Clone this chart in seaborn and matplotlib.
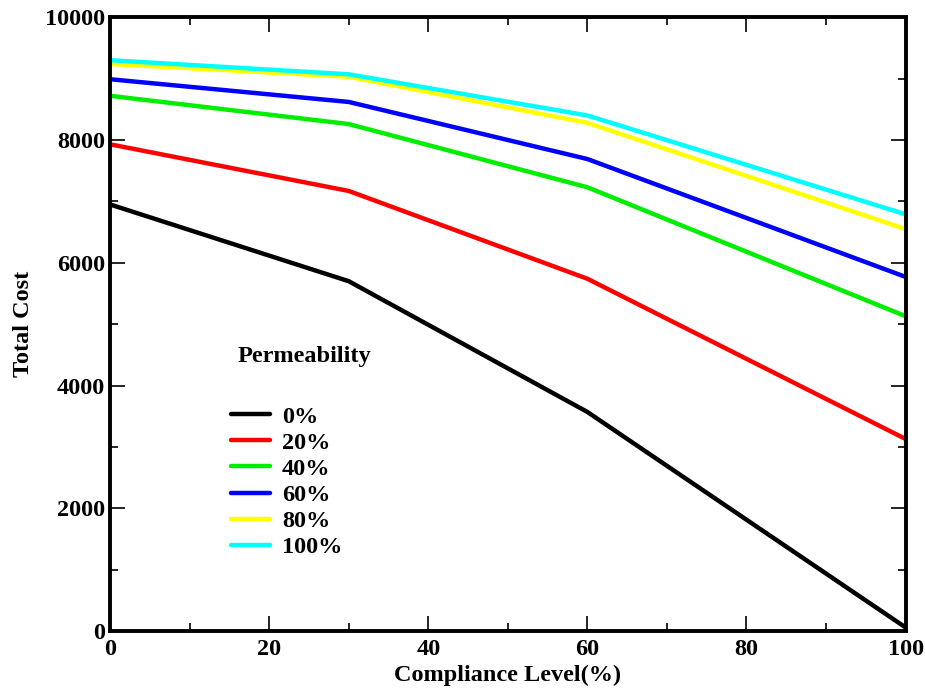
import matplotlib
matplotlib.use("Agg")
import matplotlib.pyplot as plt
import seaborn as sns
import pandas as pd
from matplotlib.ticker import MultipleLocator
from matplotlib.lines import Line2D

compliance = [0, 30, 60, 100]
perm_labels = ["0%", "20%", "40%", "60%", "80%", "100%"]
cost_0 = [6950, 5700, 3570, 60]
cost_20 = [7930, 7170, 5740, 3130]
cost_40 = [8720, 8260, 7230, 5130]
cost_60 = [8990, 8620, 7690, 5770]
cost_80 = [9240, 9030, 8280, 6550]
cost_100 = [9300, 9070, 8400, 6790]
colors = ["#000000", "#ff0000", "#00ee00", "#0000ff", "#ffff00", "#00ffff"]

series = [cost_0, cost_20, cost_40, cost_60, cost_80, cost_100]
rows = []
for lab, vals in zip(perm_labels, series):
    for x, y in zip(compliance, vals):
        rows.append({"Compliance": x, "Cost": y, "Permeability": lab})
df = pd.DataFrame(rows)

sns.set_style("ticks", {"axes.edgecolor": "black", "text.color": "black",
                        "xtick.color": "black", "ytick.color": "black",
                        "axes.labelcolor": "black"})
plt.rcParams["font.family"] = ["Liberation Serif", "DejaVu Serif"]
plt.rcParams["font.weight"] = "bold"

FS = 17.5
fig = plt.figure(figsize=(9.25, 6.89), dpi=100)
ax = fig.add_axes([0.119, 0.084, 0.86, 0.891])
sns.lineplot(data=df, x="Compliance", y="Cost", hue="Permeability",
             hue_order=perm_labels, palette=colors, linewidth=3.2, ax=ax,
             legend=False)

ax.set_xlim(0, 100)
ax.set_ylim(0, 10000)
ax.xaxis.set_major_locator(MultipleLocator(20))
ax.xaxis.set_minor_locator(MultipleLocator(10))
ax.yaxis.set_major_locator(MultipleLocator(2000))
ax.yaxis.set_minor_locator(MultipleLocator(1000))
ax.tick_params(which="both", direction="in", top=True, right=True,
               width=1.2, labelsize=FS, colors="black")
ax.tick_params(which="major", length=11)
ax.tick_params(which="minor", length=6)
ax.tick_params(axis="x", pad=6)
for lbl in ax.get_xticklabels() + ax.get_yticklabels():
    lbl.set_fontweight("bold")
for s in ax.spines.values():
    s.set_linewidth(2.8)
    s.set_color("black")
    s.set_visible(True)

ax.set_xlabel("Compliance Level(%)", fontsize=FS, fontweight="bold", labelpad=3)
ax.set_ylabel("Total Cost", fontsize=FS, fontweight="bold", labelpad=8)

handles = [Line2D([], [], color=c, lw=3.2) for c in colors]
leg = ax.legend(handles, perm_labels, loc="center left",
                bbox_to_anchor=(209 / 925, 1 - 482 / 689),
                bbox_transform=fig.transFigure, frameon=False,
                prop={"size": FS, "weight": "bold"}, handlelength=1.6,
                handletextpad=0.5, labelspacing=0.17)
fig.text(238 / 925, 1 - 356 / 689, "Permeability", fontsize=FS,
         fontweight="bold", va="center", ha="left")

fig.savefig("out.png", dpi=100)
